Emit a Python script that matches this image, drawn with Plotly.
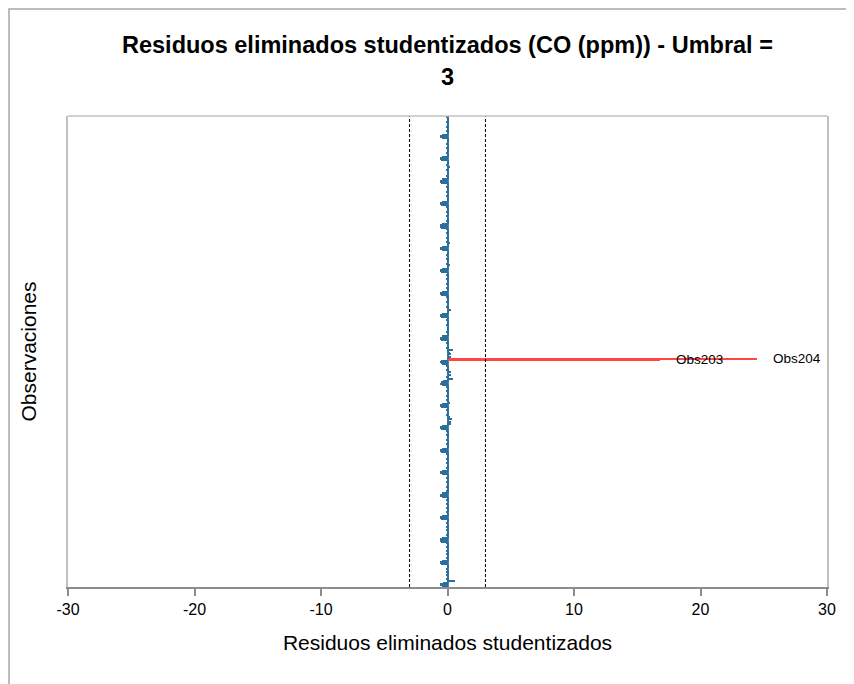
import plotly.graph_objects as go

umbral = 3
titulo = "Residuos eliminados studentizados (CO (ppm)) - Umbral ="
eje_x = "Residuos eliminados studentizados"
eje_y = "Observaciones"
ticks_x = [-30, -20, -10, 0, 10, 20, 30]

# Studentized deleted residuals, Obs1 .. Obs420 (20 per row)
residuos = [
    -0.42, -0.6, -0.58, -0.38, 0.08, 0.6, 0.05, -0.06, 0.09, 0.04, -0.05, 0.07, 0.1, -0.04, 0.06, 0.03, -0.07, 0.08, 0.05, -0.03,
    -0.5, -0.6, -0.6, -0.45, 0.06, -0.05, 0.08, 0.1, 0.04, -0.06, 0.07, 0.05, -0.04, 0.09, 0.06, -0.05, 0.08, 0.04, 0.07, -0.06,
    -0.48, -0.6, -0.57, -0.42, 0.07, 0.05, -0.06, 0.09, 0.12, 0.04, -0.05, 0.08, 0.06, -0.07, 0.1, 0.05, 0.03, -0.04, 0.07, 0.06,
    -0.5, -0.62, -0.6, -0.44, 0.05, 0.09, -0.05, 0.06, 0.04, 0.08, -0.06, 0.1, 0.05, 0.07, -0.04, 0.06, 0.09, -0.05, 0.04, 0.08,
    -0.47, -0.6, -0.59, -0.43, 0.06, -0.04, 0.07, 0.05, 0.1, -0.06, 0.08, 0.04, 0.06, -0.05, 0.09, 0.07, 0.05, -0.06, 0.08, 0.04,
    -0.46, -0.61, -0.58, -0.4, 0.08, 0.05, -0.05, 0.07, 0.06, 0.09, -0.04, 0.05, 0.08, 0.06, -0.07, 0.04, 0.1, 0.06, -0.05, 0.07,
    -0.49, -0.6, -0.6, -0.43, 0.05, 0.07, 0.09, -0.06, 0.04, 0.08, 0.06, -0.05, 0.1, 0.05, 0.07, -0.04, 0.06, 0.09, 0.05, -0.06,
    -0.5, -0.62, -0.58, -0.42, 0.1, 0.3, 0.08, 0.25, 0.06, 0.35, 0.1, 0.2, 0.07, -0.05, 0.09, 0.06, 0.05, -0.06, 0.08, 0.07,
    -0.48, -0.6, -0.57, -0.4, 0.22, 0.06, -0.05, 0.08, 0.05, 0.07, -0.06, 0.15, 0.06, 0.09, -0.04, 0.05, 0.08, 0.06, -0.05, 0.07,
    -0.47, -0.58, -0.5, -0.35, 0.1, 0.45, 0.08, -0.05, 0.12, 0.3, 0.06, 0.28, 0.05, -0.06, 0.09, 0.07, 0.05, -0.05, -0.45, -0.55,
    -0.6, -0.48, 16.8, 24.5, 0.1, 0.25, 0.15, 0.3, 0.2, 0.1, 0.06, 0.45, 0.08, -0.05, 0.07, 0.06, 0.09, -0.04, 0.05, 0.08,
    -0.5, -0.6, -0.56, -0.42, 0.12, 0.06, 0.1, -0.05, 0.12, 0.08, 0.1, 0.06, 0.12, -0.06, 0.1, 0.12, 0.06, 0.05, -0.05, 0.07,
    -0.48, -0.6, -0.58, -0.4, 0.07, 0.05, 0.1, 0.3, 0.06, -0.05, 0.08, 0.05, 0.07, 0.15, -0.06, 0.06, 0.09, 0.05, -0.04, 0.07,
    -0.49, -0.61, -0.59, -0.42, 0.06, 0.08, -0.05, 0.07, 0.05, 0.09, -0.06, 0.06, 0.1, 0.05, -0.04, 0.07, 0.06, 0.08, -0.05, 0.06,
    -0.5, -0.6, -0.58, -0.43, 0.07, 0.05, 0.09, 0.2, -0.05, 0.06, 0.08, 0.05, -0.06, 0.07, 0.1, 0.06, -0.04, 0.05, 0.08, 0.06,
    -0.47, -0.6, -0.57, -0.41, 0.06, 0.08, 0.2, -0.05, 0.07, 0.05, 0.09, -0.06, 0.06, 0.08, 0.05, -0.05, 0.07, 0.1, 0.06, -0.04,
    -0.5, -0.62, -0.6, -0.44, 0.05, 0.07, -0.06, 0.09, 0.06, 0.05, -0.05, 0.08, 0.07, 0.06, -0.04, 0.1, 0.05, 0.07, -0.06, 0.08,
    -0.48, -0.6, -0.58, -0.42, 0.07, 0.06, 0.05, 0.12, -0.05, 0.08, 0.06, 0.09, -0.06, 0.05, 0.07, 0.1, -0.04, 0.06, 0.08, 0.05,
    -0.49, -0.61, -0.58, -0.4, 0.06, 0.08, -0.05, 0.07, 0.05, 0.09, 0.06, -0.06, 0.08, 0.05, 0.2, 0.07, -0.04, 0.06, 0.09, 0.05,
    -0.5, -0.6, -0.59, -0.43, 0.07, 0.05, 0.09, -0.06, 0.06, 0.08, 0.05, -0.05, 0.1, 0.07, 0.06, -0.04, 0.08, 0.05, 0.07, 0.06,
    -0.47, -0.6, -0.57, -0.4, 0.06, 0.08, -0.05, 0.07, 0.05, 0.09, -0.06, 0.06, 0.08, 0.05, -0.04, 0.07, 0.1, 0.06, 0.05, -0.05,
]
observaciones = ["Obs" + str(i + 1) for i in range(len(residuos))]

AZUL = "#2b6f9a"
ROJO = "#ff4545"
colores = [ROJO if abs(v) > umbral else AZUL for v in residuos]

FONT = "Liberation Sans, Arial"

fig = go.Figure()
fig.add_trace(go.Bar(
    x=residuos, y=observaciones, orientation="h",
    marker=dict(color=colores, line=dict(width=0)),
    showlegend=False, hoverinfo="x+y",
))

# dashed threshold lines
for u in (-umbral, umbral):
    fig.add_shape(type="line", xref="x", yref="paper", x0=u, x1=u, y0=0, y1=1,
                  line=dict(color="black", width=1, dash="3px,2px"))

# labels for outliers
for o, v in zip(observaciones, residuos):
    if abs(v) > umbral:
        fig.add_annotation(x=v, y=o, xref="x", yref="y", text=o, showarrow=False,
                           xanchor="left", yanchor="middle", xshift=14,
                           font=dict(family=FONT, size=13.5, color="black"))

# title (two lines)
fig.add_annotation(x=0.5, y=1.1507, xref="paper", yref="paper", text="<b>" + titulo + "</b>",
                   showarrow=False, xanchor="center", yanchor="middle",
                   font=dict(family=FONT, size=23.5, color="black"))
fig.add_annotation(x=0.5, y=1.0828, xref="paper", yref="paper", text="<b>" + str(umbral) + "</b>",
                   showarrow=False, xanchor="center", yanchor="middle",
                   font=dict(family=FONT, size=23.5, color="black"))

# outer chart border
fig.add_shape(type="rect", xref="paper", yref="paper", x0=-0.0777, x1=1.3, y0=-0.4, y1=1.2272,
              line=dict(color="#a6a6a6", width=1.5), fillcolor="rgba(0,0,0,0)", layer="below")

# top frame line
fig.add_shape(type="line", xref="paper", yref="paper", x0=0, x1=1, y0=1, y1=1,
              line=dict(color="#c0c0c0", width=1.5))

fig.update_layout(
    width=854, height=684,
    margin=dict(l=60, r=35, t=108, b=105, autoexpand=False),
    paper_bgcolor="white", plot_bgcolor="white",
    bargap=0,
    font=dict(family=FONT, color="black"),
    xaxis=dict(
        range=[-30, 30], tickvals=ticks_x, ticktext=[str(t) for t in ticks_x],
        showgrid=False, zeroline=True, zerolinecolor="#4d87ad", zerolinewidth=2,
        showline=True, linecolor="#8c8c8c", linewidth=1.5, mirror=False,
        ticks="outside", ticklen=7, tickcolor="#8c8c8c", tickwidth=1.5,
        tickfont=dict(size=16), automargin=False,
        title=dict(text=eje_x, font=dict(size=21), standoff=18),
    ),
    yaxis=dict(
        type="category", showticklabels=False, ticks="", showgrid=False,
        zeroline=False, showline=True, linecolor="#c0c0c0", linewidth=1.5, mirror=True,
        automargin=False, title=dict(text=eje_y, font=dict(size=21), standoff=24),
    ),
)

fig.write_html("out.html")
